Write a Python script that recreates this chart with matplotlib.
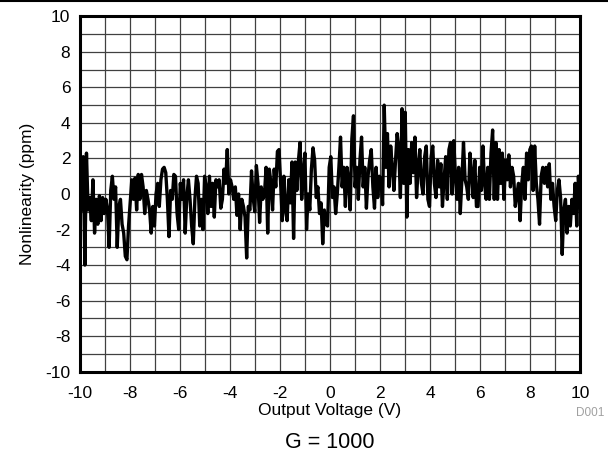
import numpy as np
import matplotlib
matplotlib.use("Agg")
import matplotlib.pyplot as plt

plt.rcParams['font.family'] = ['Liberation Sans', 'DejaVu Sans']
plt.rcParams['axes.unicode_minus'] = False

# nonlinearity readings (ppm), swept from -10 V to +10 V
nl_seg1 = [2.4, -0.9, 2.1, -4.0, 2.3, -0.9, -0.2, -1.5, 0.8, -2.2, -0.3, -1.7, -0.1, -1.5,
           -0.2, -1.1, -0.3, -0.9, -3.0, 0.2, 1.0, -0.3, 0.4, -3.0, -0.7, -0.3, -1.7, -2.2,
           -3.5, -3.7, -1.8, -0.5, 0.8, -0.3, 0.9, -0.9, 1.1, -0.3, 1.1, 0.4, -1.1, 0.2,
           -0.3, -0.9, -2.2, -0.7, -1.8, 0.0, 0.6, -0.7, 0.8, 1.4, 1.5, 1.2, -0.3, -2.4,
           0.2, -0.3, 1.1, 1.0, -1.1]
nl_seg2 = [-2.0, 0.6, -0.3, 0.8, -2.2, -0.2, 0.8, -0.3, -1.8, -2.8, -0.3, 1.0, 0.6, -1.8,
           -0.3, -2.0, 1.0, 0.4, -1.1, 1.0, -0.7, 0.6, -1.3, 0.8, 0.4, 0.8, -0.8, -0.3,
           1.4, 0.6, 2.5, 0.0, 0.8, 0.4, -0.3, 0.4, -1.2, 0.0, -2.0, -0.3, -0.7, -1.3,
           -3.6, -0.7, -0.9, 1.3, -0.2, -1.0, 1.6, 0.6, -1.6, 0.4, -0.3, 0.0, 1.5, -2.2,
           1.4, 0.6, -0.9, 1.4, 0.4, 2.4]
nl_seg3 = [2.5, 0.6, -1.5, 1.0, -0.9, -1.5, 0.8, -0.5, 1.8, -2.5, 1.8, 0.2, 1.9, 2.9,
           -0.3, 1.2, 2.3, -2.0, 0.0, -0.9, 1.4, 2.6, 1.9, -0.2, 0.4, -1.1, -0.5, -2.8,
           -0.9, -1.7, -1.8, 1.5, 2.1, -0.2, 0.4, -1.1, 0.0, 1.5, 3.2, 0.4, 1.5, -0.7,
           1.5, 0.8, -0.9, 3.1, 4.4, 0.4, 1.5, -0.3, 1.9, 3.2, 0.4, 1.5, -0.8, 1.0,
           1.9, 2.5, 0.4, -0.8, 1.5, -0.2, 1.0]
nl_seg4 = [0.8, -0.6, 5.0, 1.5, 3.4, 0.4, 2.7, 1.5, 0.2, 1.9, 3.4, 2.5, -0.2, 4.8,
           0.6, 4.6, -1.3, 2.5, 0.6, 2.9, 1.2, 3.2, -0.2, 1.5, 2.5, 0.6, 0.0, 2.1,
           2.7, -0.3, -0.7, 2.1, 2.7, 0.6, -0.2, 1.9, 0.4, 1.7, -0.7, 0.8, 2.1, -0.3,
           2.5, 2.9, 0.0, 3.0, 1.0, -0.3, 1.5, -1.1, 0.8, 2.9, 0.8, 0.4, -0.3, 2.3,
           1.2, -0.2, 1.9, -0.7]
nl_seg5 = [-0.7, 1.5, 0.2, 2.7, 0.6, -0.3, 1.5, -0.3, 2.3, 3.6, -0.3, 2.9, -0.3, 2.5,
           0.6, 2.3, -0.3, 1.9, 0.8, 2.2, 0.4, 1.5, 1.0, -0.7, 0.0, 0.6, -1.5, 0.6,
           1.5, -0.3, 2.3, 0.8, 2.5, 2.7, 0.2, 2.7, 0.6, -0.3, -1.7, 1.0, 1.5, 0.6,
           1.5, 0.4, 1.7, -0.3, 0.6, -0.7, -1.5, 0.2, 0.8, -0.2, -3.4, -0.9, -0.3, -2.2,
           -0.7, -1.8, -0.3, -1.1, 0.6, -1.8, 1.0, -0.3]

nonlin = np.array(nl_seg1 + nl_seg2 + nl_seg3 + nl_seg4 + nl_seg5)
vout = np.linspace(-10, 10, len(nonlin))

x_ticks = np.arange(-10, 11, 2)
y_ticks = np.arange(-10, 11, 2)

fig = plt.figure(figsize=(6.08, 4.58), dpi=100)
ax = fig.add_axes([80 / 608, 1 - 371.7 / 458, 500 / 608, 355.4 / 458])

# grid on every unit, labels on every second one
ax.set_xticks(np.arange(-10, 11, 1), minor=True)
ax.set_yticks(np.arange(-10, 11, 1), minor=True)
ax.grid(which='both', color='#404040', linewidth=0.9)
ax.set_axisbelow(True)

ax.plot(vout, nonlin, color='black', linewidth=2.4, solid_joinstyle='round')

ax.set_xlim(-10, 10)
ax.set_ylim(-10, 10)
ax.set_xticks(x_ticks)
ax.set_yticks(y_ticks)
ax.tick_params(which='both', length=0, labelsize=12.5)
ax.tick_params(axis='x', pad=10.5)
ax.tick_params(axis='y', pad=7)
for s in ax.spines.values():
    s.set_linewidth(2.2)
    s.set_color('black')

ax.set_xlabel('Output Voltage (V)', fontsize=12.5, labelpad=1)
ax.set_ylabel('Nonlinearity (ppm)', fontsize=12.5, labelpad=7)

fig.text(590 / 608, 1 - 413 / 458, 'D001', fontsize=8.5, color='#a0a0a0',
         ha='center', va='center')
fig.text(330 / 608, 1 - 442 / 458, 'G = 1000', fontsize=15.5, ha='center', va='center')
fig.add_artist(plt.Line2D([0, 1], [1 - 1 / 458, 1 - 1 / 458], color='black',
                          linewidth=1.5, transform=fig.transFigure))

fig.savefig('out.png', dpi=100)
